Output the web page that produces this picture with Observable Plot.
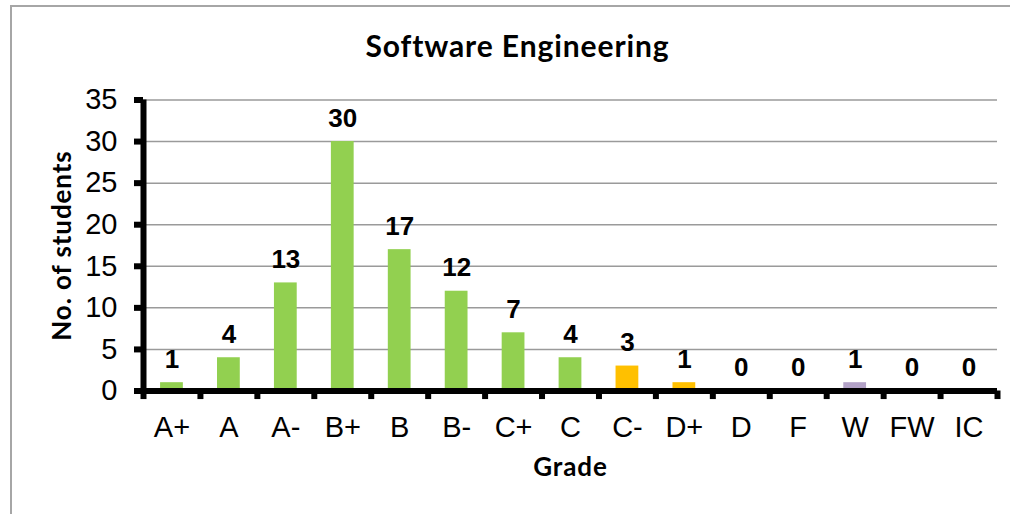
<!DOCTYPE html>
<html>
<head>
<meta charset="utf-8">
<script src="https://cdn.jsdelivr.net/npm/d3@7"></script>
<script src="https://cdn.jsdelivr.net/npm/@observablehq/plot@0.6"></script>
<style>
  html, body { margin: 0; padding: 0; background: #fff; overflow: hidden; width: 1010px; height: 514px; }
  #wrap { position: relative; width: 1010px; height: 514px; }
  #border { position: absolute; left: 10px; top: 5px; width: 1100px; height: 600px; border: 2px solid #a6a6a6; box-sizing: border-box; }
  #chart { position: absolute; left: 0; top: 0; }
</style>
</head>
<body>
<div id="wrap"><div id="border"></div><div id="chart"></div></div>
<script>
const grades = ["A+", "A", "A-", "B+", "B", "B-", "C+", "C", "C-", "D+", "D", "F", "W", "FW", "IC"];
const counts = [1, 4, 13, 30, 17, 12, 7, 4, 3, 1, 0, 0, 1, 0, 0];
const barColors = ["#92D050", "#92D050", "#92D050", "#92D050", "#92D050", "#92D050", "#92D050", "#92D050",
                   "#FFC000", "#FFC000", "#B3A2C7", "#B3A2C7", "#B3A2C7", "#B3A2C7", "#B3A2C7"];
const yTicks = [0, 5, 10, 15, 20, 25, 30, 35];
const titleText = "Software Engineering";
const yLabel = "No. of students";
const xLabel = "Grade";

const data = grades.map((g, i) => ({grade: g, count: counts[i], color: barColors[i]}));

const W = 1010, H = 514;
const mL = 143, mR = 13, mT = 99.5, mB = 123.5;
const pInner = 0.6, pOuter = 0.3;
const step = (W - mL - mR) / (grades.length - pInner + 2 * pOuter);

const calibri = "Lato, 'Open Sans', sans-serif";

const plot = Plot.plot({
  width: W, height: H,
  marginLeft: mL, marginRight: mR, marginTop: mT, marginBottom: mB,
  style: {fontFamily: "'Liberation Sans', Arial, sans-serif", background: "transparent", color: "#000"},
  x: {domain: grades, paddingInner: pInner, paddingOuter: pOuter, round: false, axis: null},
  y: {domain: [0, 35], axis: null},
  marks: [
    Plot.gridY(yTicks, {stroke: "#9a9a9a", strokeOpacity: 1, strokeWidth: 1.5}),
    Plot.barY(data, {x: "grade", y: "count", fill: "color"}),
    Plot.text(data, {x: "grade", y: "count", text: d => String(d.count), lineAnchor: "bottom", dy: -15,
      fontSize: 26, fontWeight: "bold", fill: "#000"}),
    Plot.ruleY([0], {stroke: "#000", strokeWidth: 6}),
    Plot.ruleX([grades[0]], {x: d => d, y1: 0, y2: 35, dx: -step / 2, stroke: "#000", strokeWidth: 6}),
    Plot.ruleX(grades, {x: d => d, y1: 0, y2: -1.03, dx: -step / 2, stroke: "#000", strokeWidth: 6}),
    Plot.ruleX([grades[grades.length - 1]], {x: d => d, y1: 0, y2: -1.03, dx: step / 2, stroke: "#000", strokeWidth: 6}),
    Plot.axisY(yTicks, {tickSize: 9, tickPadding: 17, strokeWidth: 6, fontSize: 29, label: null}),
    Plot.axisX({tickSize: 0, tickPadding: 25, fontSize: 29, label: null}),
    Plot.text([titleText], {frameAnchor: "top", lineAnchor: "middle", textAnchor: "middle", dx: -53, dy: -52.5,
      fontFamily: calibri, fontWeight: "bold", fontSize: 30, fill: "#000"}),
    Plot.text([yLabel], {frameAnchor: "left", lineAnchor: "middle", textAnchor: "middle", rotate: -90, dx: -81,
      fontFamily: calibri, fontWeight: "bold", fontSize: 26, fill: "#000"}),
    Plot.text([xLabel], {frameAnchor: "bottom", lineAnchor: "middle", textAnchor: "middle", dy: 76.5,
      fontFamily: calibri, fontWeight: "bold", fontSize: 26, fill: "#000"})
  ]
});
d3.select(plot).selectAll("g[font-family^='Lato'] text").style("letter-spacing", "0.9px");
document.getElementById("chart").appendChild(plot);
</script>
</body>
</html>
